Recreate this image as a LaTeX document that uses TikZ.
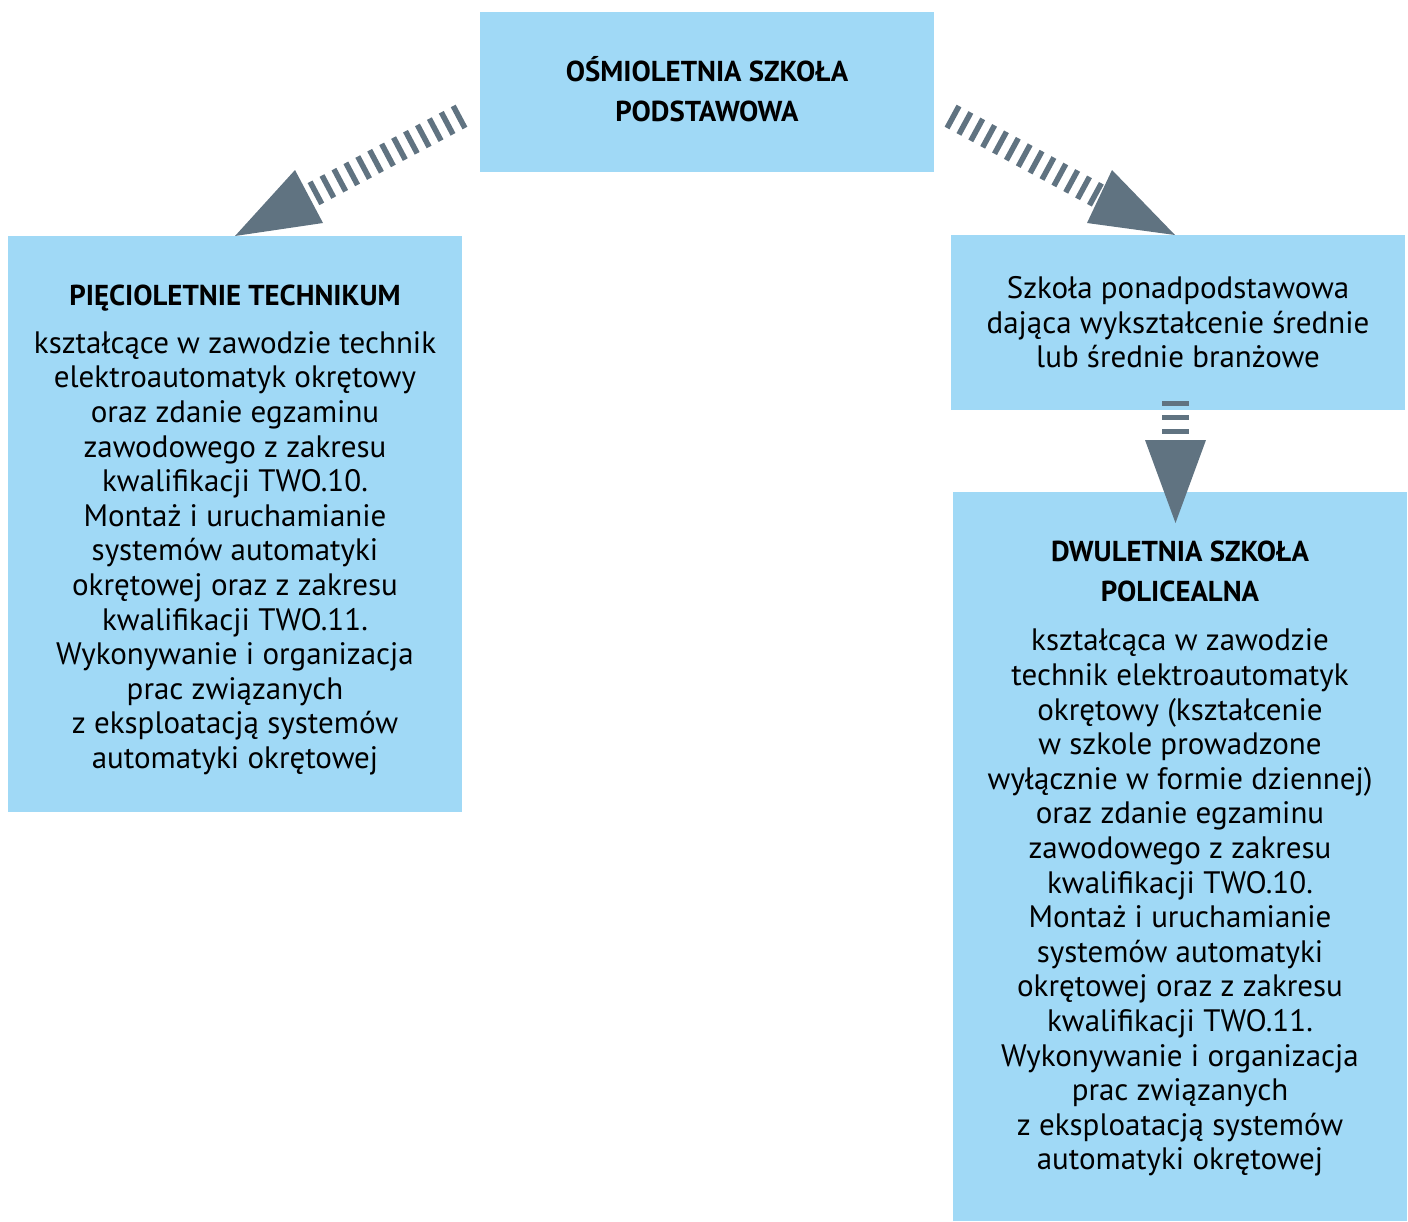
\documentclass[tikz,border=0pt]{standalone}
\usepackage{fontspec}
\setmainfont{PT Sans}
\usepackage{tikz}
\definecolor{boxblue}{RGB}{160,217,246}
\definecolor{arrowgrey}{RGB}{96,115,129}

\begin{document}
\begin{tikzpicture}[x=0.5pt,y=-0.5pt]
        \useasboundingbox (0,0) rectangle (1408,1221);
        \begin{scope}[
            every node/.style={fill=boxblue,inner sep=0pt,align=center,minimum width=227pt,
                font=\fontsize{15.5}{17.3}\selectfont}
        ]
            \node[minimum height=80pt,font=\fontsize{14.4}{20}\selectfont\bfseries] (SP) at (707,92)
                {OŚMIOLETNIA SZKOŁA\\PODSTAWOWA\rule[-3pt]{0pt}{3pt}};

            \node[minimum height=288pt] (TE) at (235,524)
                {{\fontsize{14.4}{17.3}\selectfont\bfseries\rule{0pt}{16.1pt}PIĘCIOLETNIE TECHNIKUM}\\[6.7pt]
                kształcące w zawodzie technik\\
                elektroautomatyk okrętowy\\
                oraz zdanie egzaminu\\
                zawodowego z zakresu\\
                kwalifikacji TWO.10.\\
                Montaż i uruchamianie\\
                systemów automatyki\\
                okrętowej oraz z zakresu\\
                kwalifikacji TWO.11.\\
                Wykonywanie i organizacja\\
                prac związanych\\
                z eksploatacją systemów\\
                automatyki okrętowej};

            \node[minimum height=87.5pt] (PP) at (1178,322.5)
                {Szkoła ponadpodstawowa\\
                dająca wykształcenie średnie\\
                lub średnie branżowe};

            \node[minimum height=364.5pt] (PO) at (1180,856.5)
                {{\fontsize{14.4}{17.3}\selectfont\bfseries\rule{0pt}{12.6pt}DWULETNIA SZKOŁA}\\[2.7pt]
                {\fontsize{14.4}{17.3}\selectfont\bfseries POLICEALNA}\\[7.2pt]
                kształcąca w zawodzie\\
                technik elektroautomatyk\\
                okrętowy (kształcenie\\
                w szkole prowadzone\\
                wyłącznie w formie dziennej)\\
                oraz zdanie egzaminu\\
                zawodowego z zakresu\\
                kwalifikacji TWO.10.\\
                Montaż i uruchamianie\\
                systemów automatyki\\
                okrętowej oraz z zakresu\\
                kwalifikacji TWO.11.\\
                Wykonywanie i organizacja\\
                prac związanych\\
                z eksploatacją systemów\\
                automatyki okrętowej};
        \end{scope}
        \begin{scope}[
            every edge/.style={draw=arrowgrey,line width=12.5pt,dash pattern=on 2.75pt off 4pt}
        ]
            \coordinate (a1) at (461.5,115.7);
            \coordinate (b1) at (309,196.5);
            \coordinate (a2) at (950.6,115.7);
            \coordinate (b2) at (1099.5,196.5);
            \coordinate (a3) at (1175.5,401);
            \coordinate (b3) at (1175.5,440);

            \path [-] (a1) edge (b1);
            \path [-] (a2) edge (b2);
            \path [-] (a3) edge[line width=13.5pt,dash pattern=on 2.25pt off 4.75pt] (b3);

            \fill[arrowgrey] (295,170) -- (323,223) -- (235,236) -- cycle;
            \fill[arrowgrey] (1112,170) -- (1087,223) -- (1175,235) -- cycle;
            \fill[arrowgrey] (1145,440) -- (1206,440) -- (1175.5,523) -- cycle;
        \end{scope}
    \end{tikzpicture}
\end{document}
